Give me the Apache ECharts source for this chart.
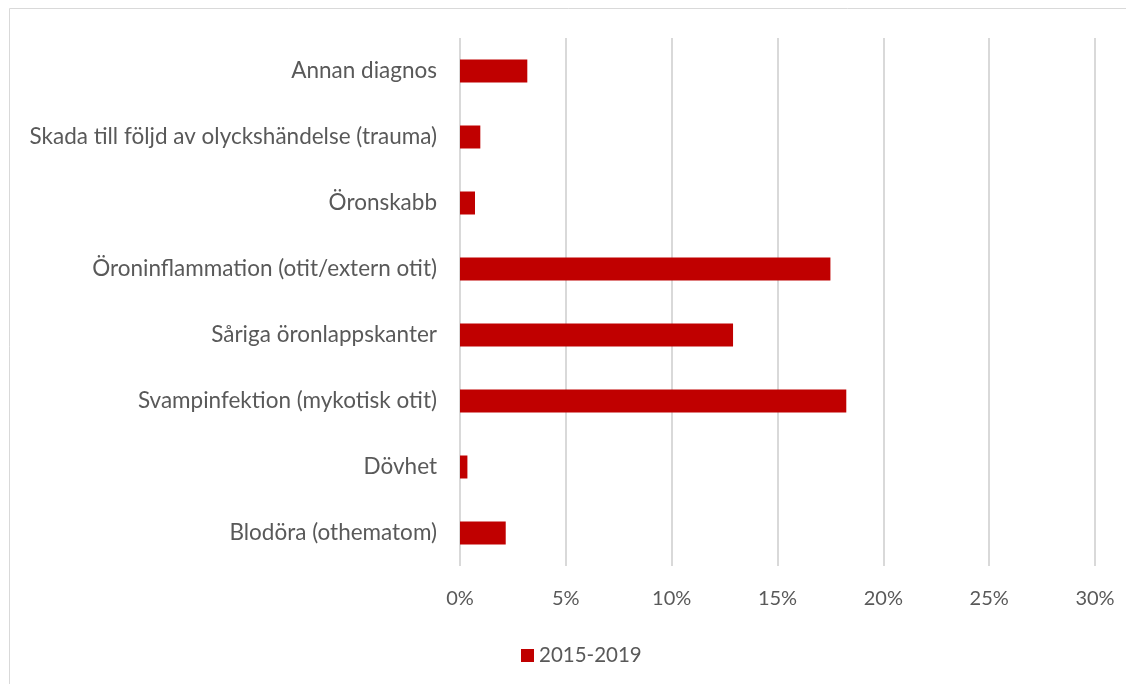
<!DOCTYPE html>
<html>
<head>
<meta charset="utf-8">
<script src="https://cdn.jsdelivr.net/npm/echarts@6/dist/echarts.min.js"></script>
<style>
html,body{margin:0;padding:0;background:#fff;}
#chart{width:1126px;height:684px;}
</style>
</head>
<body>
<div id="chart"></div>
<script>
const categories = [
  "Blodöra (othematom)",
  "Dövhet",
  "Svampinfektion (mykotisk otit)",
  "Såriga öronlappskanter",
  "Öroninflammation (otit/extern otit)",
  "Öronskabb",
  "Skada till följd av olyckshändelse (trauma)",
  "Annan diagnos"
];
const seriesName = "2015-2019";
const values = [2.16, 0.35, 18.25, 12.9, 17.5, 0.71, 0.96, 3.18];
const xTicks = [0, 5, 10, 15, 20, 25, 30];

const chart = echarts.init(document.getElementById('chart'), null, {renderer:'canvas'});
const fontFam = 'Lato, "Open Sans", sans-serif';
chart.setOption({
  animation: false,
  backgroundColor: '#fff',
  graphic: [{
    type: 'rect',
    shape: {x: 9.5, y: 8.5, width: 1130, height: 700},
    style: {fill: 'none', stroke: '#d9d9d9', lineWidth: 1}
  }],
  grid: {left: 460, right: 31, top: 38, bottom: 118, containLabel: false},
  legend: {
    data: [seriesName],
    left: 516, top: 640,
    itemWidth: 13, itemHeight: 13, itemGap: 6,
    icon: 'rect',
    textStyle: {color: '#595959', fontSize: 20.5, fontFamily: fontFam}
  },
  xAxis: {
    type: 'value',
    min: xTicks[0], max: xTicks[xTicks.length-1], interval: 5,
    axisLine: {show: false}, axisTick: {show: false},
    splitLine: {lineStyle: {color: '#d9d9d9', width: 2}},
    axisLabel: {color: '#595959', fontSize: 20, fontFamily: fontFam, margin: 23,
      formatter: v => v + '%'}
  },
  yAxis: {
    type: 'category',
    data: categories,
    axisLine: {show: false}, axisTick: {show: false},
    axisLabel: {color: '#595959', fontSize: 22.5, fontFamily: fontFam, margin: 23}
  },
  series: [{
    name: seriesName,
    type: 'bar',
    data: values,
    barWidth: 23,
    itemStyle: {color: '#c00000'}
  }]
});
</script>
</body>
</html>
